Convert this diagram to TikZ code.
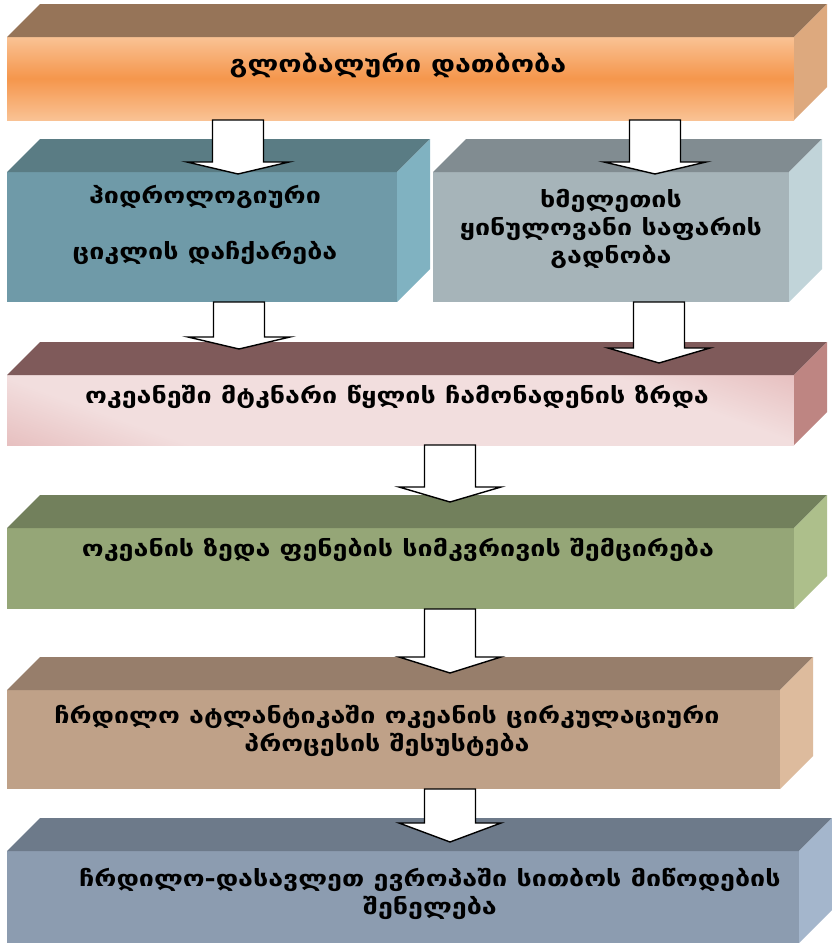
\documentclass[tikz,border=0pt]{standalone}
\usepackage{fontspec}
\newfontfamily\geo{DejaVu Sans}[FakeStretch=1.22]
\usetikzlibrary{calc}
\definecolor{t1}{HTML}{967458}\definecolor{s1}{HTML}{DDA97E}
\definecolor{f1a}{HTML}{F9C294}\definecolor{f1b}{HTML}{F5964C}
\definecolor{t2}{HTML}{5A7C84}\definecolor{f2}{HTML}{6F9AA8}\definecolor{s2}{HTML}{80B2C1}
\definecolor{t3}{HTML}{818C91}\definecolor{f3}{HTML}{A6B4B9}\definecolor{s3}{HTML}{C1D4D9}
\definecolor{t4}{HTML}{7F5A5A}\definecolor{f4a}{HTML}{D69393}\definecolor{f4b}{HTML}{F2DEDE}\definecolor{s4}{HTML}{BE8582}
\definecolor{t5}{HTML}{72805C}\definecolor{f5}{HTML}{95A677}\definecolor{s5}{HTML}{ADBF8B}
\definecolor{t6}{HTML}{977E6B}\definecolor{f6}{HTML}{BFA188}\definecolor{s6}{HTML}{DDBB9D}
\definecolor{t7}{HTML}{6D7A8A}\definecolor{f7}{HTML}{8C9CB0}\definecolor{s7}{HTML}{A4B6CC}
\pgfdeclarehorizontalshading{pinkband}{100bp}{color(0bp)=(f4a); color(30bp)=(f4b); color(70bp)=(f4b); color(100bp)=(f4a)}
\tikzset{
  face/.style={inner sep=0pt, outer sep=0pt, draw=none},
  lbl/.style={font=\geo\bfseries\fontsize{22}{28}\selectfont, align=center, text=black, inner sep=0pt},
  barrowstyle/.style={draw=black, line width=1.4pt, fill=white, line join=miter},
}
% #1 name, #2 x1, #3 y1, #4 x2, #5 y2, #6 top colour, #7 side colour, #8 front style
\newcommand\slab[8]{%
  \node[face, minimum width={(#4-#2)*1pt}, minimum height={(#5-#3)*1pt}, #8] (#1) at ({(#2+#4)/2},{(#3+#5)/2}) {};
  \fill[#6] (#1.north west) -- ++(33,-33) -- ($(#1.north east)+(33,-33)$) -- (#1.north east) -- cycle;
  \fill[#7] (#1.north east) -- ++(33,-33) -- ($(#1.south east)+(33,-33)$) -- (#1.south east) -- cycle;
}
% #1 centre x, #2 shaft top, #3 head top, #4 tip
\newcommand\barrow[4]{%
  \draw[barrowstyle] ({#1-25.5},#2) -- ({#1-25.5},#3) -- ({#1-51},#3) -- (#1,#4) -- ({#1+51},#3) -- ({#1+25.5},#3) -- ({#1+25.5},#2) -- cycle;
}
\begin{document}
\begin{tikzpicture}[x=1pt,y=-1pt]
\useasboundingbox[fill=white] (0,0) rectangle (831,943);
\slab{b1}{7}{37}{794}{120}{t1}{s1}{top color=f1a, bottom color=f1a, middle color=f1b}
\slab{b2}{7}{172}{397}{302}{t2}{s2}{fill=f2}
\slab{b3}{433}{172}{789}{302}{t3}{s3}{fill=f3}
\slab{b4}{7}{375}{794}{445}{t4}{s4}{shading=pinkband, shading angle=70}
\slab{b5}{7}{528}{794}{609}{t5}{s5}{fill=f5}
\slab{b6}{7}{690}{780}{789}{t6}{s6}{fill=f6}
\slab{b7}{7}{851}{799}{943}{t7}{s7}{fill=f7}

\node[lbl, font=\geo\bfseries\fontsize{23.5}{28}\selectfont] (l1) at (398,65) {გლობალური დათბობა};
\node[lbl] (l2) at (205,225) {ჰიდროლოგიური\\[28pt]ციკლის დაჩქარება};
\node[lbl] (l3) at (611,229) {ხმელეთის\\ყინულოვანი საფარის\\გადნობა};
\node[lbl] (l4) at (397,397) {ოკეანეში მტკნარი წყლის ჩამონადენის ზრდა};
\node[lbl] (l5) at (398,550) {ოკეანის ზედა ფენების სიმკვრივის შემცირება};
\node[lbl] (l6) at (387,731) {ჩრდილო ატლანტიკაში ოკეანის ცირკულაციური\\პროცესის შესუსტება};
\node[lbl] (l7) at (430,894) {ჩრდილო-დასავლეთ ევროპაში სითბოს მიწოდების\\შენელება};

\barrow{238}{120}{162}{174}
\barrow{655}{120}{162}{174}
\barrow{239}{302}{337}{349}
\barrow{659}{302}{348}{363}
\barrow{450}{445}{487}{502}
\barrow{450}{609}{657}{673}
\barrow{450}{789}{823}{842}
\end{tikzpicture}
\end{document}
